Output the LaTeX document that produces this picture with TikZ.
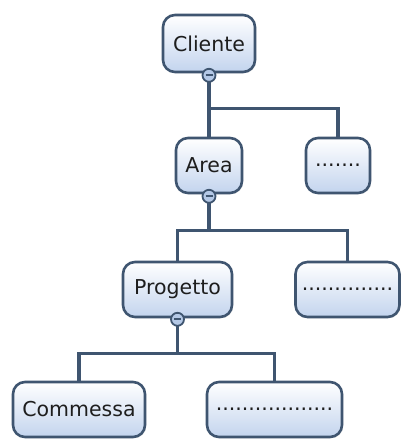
\documentclass[tikz,border=0pt]{standalone}
\usepackage{fontspec}
\setmainfont{DejaVu Sans}
\usetikzlibrary{shadows}
\definecolor{edge}{HTML}{3F5570}
\definecolor{fillbot}{HTML}{C3D4EE}
\definecolor{minfill}{HTML}{B4C8E6}
\definecolor{txt}{HTML}{1E1E1E}
\begin{document}
\begin{tikzpicture}[x=1pt,y=-1pt,
  box/.style={draw=edge, line width=2.6pt, rounded corners=12pt,
    top color=white, bottom color=fillbot, inner sep=0pt,
    text=txt, font=\fontsize{20.5}{24}\selectfont,
    drop shadow={opacity=0.25, shadow xshift=1.2pt, shadow yshift=-1.2pt}},
  conn/.style={draw=edge, line width=3.4pt},
  minus/.style={circle, draw=edge, line width=1.8pt, fill=minfill,
    minimum size=13pt, inner sep=0pt,
    path picture={\draw[edge, line width=2.2pt] ([xshift=-3.5pt]path picture bounding box.center) -- ([xshift=3.5pt]path picture bounding box.center);}}
]
\useasboundingbox (0,0) rectangle (402,440);
% nodes
\node[box, minimum width=92pt, minimum height=57pt] (cliente) at (209,43.5) {Cliente};
\node[box, minimum width=66pt, minimum height=55pt] (area) at (209,165.5) {Area};
\node[box, minimum width=64pt, minimum height=55pt] (d1) at (338,165.5) {.......};
\node[box, minimum width=109pt, minimum height=55pt] (progetto) at (177.5,289.5) {Progetto};
\node[box, minimum width=104pt, minimum height=55pt] (d2) at (347.5,289.5) {..............};
\node[box, minimum width=132pt, minimum height=55pt] (commessa) at (79,409.5) {Commessa};
\node[box, minimum width=135pt, minimum height=55pt] (d3) at (274.5,409.5) {..................};
% connectors
\draw[conn] (cliente.south) -- ++(0,35) -| (area.north);
\draw[conn] (cliente.south) -- ++(0,35) -| (d1.north);
\draw[conn] (area.south) -- ++(0,36) -| (progetto.north);
\draw[conn] (area.south) -- ++(0,36) -| (d2.north);
\draw[conn] (progetto.south) -- ++(0,35) -| (commessa.north);
\draw[conn] (progetto.south) -- ++(0,35) -| (d3.north);
% collapse markers
\node[minus] (m1) at ([yshift=-2pt]cliente.south) {};
\node[minus] (m2) at ([yshift=-2pt]area.south) {};
\node[minus] (m3) at ([yshift=-1pt]progetto.south) {};
\end{tikzpicture}
\end{document}
